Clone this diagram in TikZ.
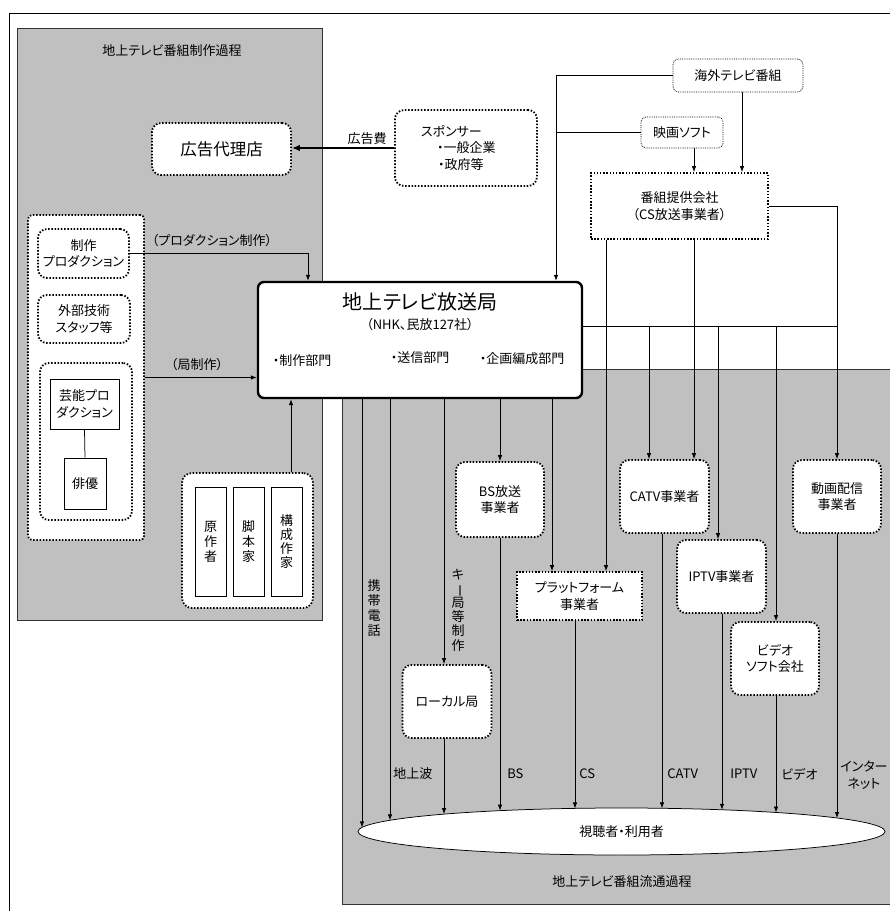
\documentclass[tikz,border=0pt]{standalone}
\usepackage{fontspec}
\setmainfont{Noto Sans CJK JP}[RawFeature={+palt}]
\usetikzlibrary{arrows.meta,shapes.geometric}
\definecolor{areagray}{RGB}{192,192,192}

\begin{document}
\begin{tikzpicture}[x=1pt,y=-1pt,line width=.75pt,font=\fontsize{13}{16.5}\selectfont,
  >={Latex[length=6pt,width=4.5pt]},
  area/.style={draw=black!80,fill=areagray,line width=.8pt},
  dotbox/.style={draw,fill=white,line width=1.8pt,dash pattern=on 1.5pt off 1.7pt,rounded corners=9pt,inner sep=0pt,align=center},
  sqdotbox/.style={dotbox,sharp corners},
  finebox/.style={draw,fill=white,line width=.7pt,dash pattern=on .8pt off 1pt,rounded corners=5pt,inner sep=0pt},
  plainbox/.style={draw,fill=white,inner sep=0pt,align=center},
  vtext/.style={align=center,inner sep=0pt,font=\fontsize{13}{15}\selectfont},
  lbl/.style={inner sep=0pt}]
\useasboundingbox (0,0) rectangle (890,911);
\clip (0,0) rectangle (890,911);
\draw[line width=.9pt] (9.5,13.5) rectangle (905,925);

% the two processes
\draw[area] (17,28) rectangle (322,620);
\draw[area] (342,369) rectangle (905,904);
\node (prodtitle) at (172,51) {地上テレビ番組制作過程};
\node (disttitle) at (622,882) {地上テレビ番組流通過程};

% broadcaster
\node[draw,fill=white,line width=2.4pt,rounded corners=6pt,minimum width=324pt,minimum height=116pt] (station) at (420,340) {};
\node[font=\fontsize{20}{24}\selectfont] (sttitle) at (420,302) {地上テレビ放送局};
\node (stsub) at (420,325) {（NHK、民放127社）};
\node (stprod) at (302,361) {・制作部門};
\node (stsend) at (420,358) {・送信部門};
\node (stplan) at (522,359) {・企画編成部門};

% sponsor and agency
\node[dotbox,minimum width=139pt,minimum height=52pt,font=\fontsize{16.5}{20}\selectfont] (agency) at (221.5,149) {広告代理店};
\node[dotbox,minimum width=142pt,minimum height=76pt,text width=90pt,align=left] (sponsor) at (466,148)
  {スポンサー\\\hspace*{16pt}・一般企業\\\hspace*{17pt}・政府等};
\draw[line width=2pt,-{Latex[length=8pt,width=6.5pt]}] (sponsor.west) -- (agency.east |- sponsor.west);
\node[lbl] (adfee) at (367,139) {広告費};

% program sources
\node[finebox,minimum width=130pt,minimum height=33pt] (abroad) at (738,75.5) {海外テレビ番組};
\node[finebox,minimum width=82pt,minimum height=31pt] (film) at (682,132.5) {映画ソフト};
\node[sqdotbox,minimum width=177pt,minimum height=66pt] (provider) at (679.5,206) {番組提供会社\\（CS放送事業者）};
\draw[->] (abroad.west) -| (station.north -| 556,0);
\draw (film.west) -- (film.west -| 556,0);
\draw[->] (film.south -| 694,0) -- (provider.north -| 694,0);
\draw[->] (abroad.south -| 742,0) -- (provider.north -| 742,0);

% production side
\node[dotbox,rounded corners=4pt,minimum width=116pt,minimum height=325pt] (prodgroup) at (86,377.5) {};
\node[dotbox,minimum width=91pt,minimum height=49pt] (seisaku) at (83.5,253.5) {制作\\プロダクション};
\node[dotbox,minimum width=92pt,minimum height=48pt] (gaibu) at (84,319) {外部技術\\スタッフ等};
\node[dotbox,minimum width=92pt,minimum height=157pt] (geinogroup) at (86,441.5) {};
\node[plainbox,minimum width=69pt,minimum height=50pt] (geinoprod) at (84.5,404) {芸能プロ\\ダクション};
\node[plainbox,minimum width=42pt,minimum height=51pt] (haiyu) at (85,483.5) {俳優};
\draw (geinoprod.south) -- (haiyu.north);
\node[dotbox,rounded corners=10pt,minimum width=131pt,minimum height=135pt] (writers) at (247.5,540.5) {};
\node[plainbox,vtext,minimum width=31pt,minimum height=109pt] (gensaku) at (210.5,541.5) {原\\作\\者};
\node[plainbox,vtext,minimum width=31pt,minimum height=109pt] (kyakuhon) at (248.5,541.5) {脚\\本\\家};
\node[plainbox,vtext,font=\fontsize{13}{14}\selectfont,minimum width=31pt,minimum height=109pt] (kosei) at (286.5,541.5) {構\\成\\作\\家};
\draw[->] (seisaku.east) -| (station.north -| 308,0);
\node[lbl] (lblprod) at (212,241) {（プロダクション制作）};
\draw[->] (prodgroup.east) -- (station.west |- prodgroup.east);
\node[lbl] (lblkyoku) at (197,365) {（局制作）};
\draw[->] (writers.north -| 291,0) -- (station.south -| 291,0);

% distributors
\node[dotbox,minimum width=89pt,minimum height=73pt] (local) at (447,701.5) {ローカル局};
\node[dotbox,minimum width=88pt,minimum height=75pt] (bs) at (500,499.5) {BS放送\\事業者};
\node[sqdotbox,minimum width=125pt,minimum height=48pt] (platform) at (579.5,596) {プラットフォーム\\事業者};
\node[dotbox,minimum width=89pt,minimum height=73pt] (catv) at (664.5,496.5) {CATV事業者};
\node[dotbox,minimum width=89pt,minimum height=73pt] (iptv) at (721.5,576.5) {IPTV事業者};
\node[dotbox,minimum width=88pt,minimum height=73pt] (video) at (775,658.5) {ビデオ\\ソフト会社};
\node[dotbox,minimum width=88pt,minimum height=73pt] (online) at (837,496.5) {動画配信\\事業者};
\node[ellipse,draw,fill=white,minimum width=527pt,minimum height=47pt,inner sep=0pt] (viewer) at (621.5,831.5) {視聴者・利用者};

% where the lines meet the viewers
\coordinate (vmob) at (362,827.4);
\coordinate (vterr) at (390,820.3);
\coordinate (vlocal) at (444,814.1);
\coordinate (vbs) at (500,810.6);
\coordinate (vcs) at (575,808.4);
\coordinate (vcatv) at (662,808.3);
\coordinate (viptv) at (722,809.8);
\coordinate (vvideo) at (776,812.5);
\coordinate (vnet) at (837,818);

% broadcaster outputs
\coordinate (busend) at (837,326);
\draw (station.east |- busend) -- (busend);
\draw[->] (busend -| 649,0) -- (catv.north -| 649,0);
\draw[->] (busend -| 718,0) -- (iptv.north -| 718,0);
\draw[->] (busend -| 776,0) -- (video.north -| 776,0);
\draw[->] (station.south -| 362,0) -- (vmob);
\draw[->] (station.south -| 390,0) -- (vterr);
\draw[->] (station.south -| 444,0) -- (local.north -| 444,0);
\draw[->] (station.south -| bs.north) -- (bs.north);
\draw[->] (station.south -| 552,0) -- (platform.north -| 552,0);

% provider outputs
\draw[->] (provider.south -| 606,0) -- (platform.north -| 606,0);
\draw[->] (provider.south -| 694,0) -- (catv.north -| 694,0);
\draw[->] (provider.east) -| (online.north);

% to the viewers
\draw[->] (local.south -| 444,0) -- (vlocal);
\draw[->] (bs.south) -- (vbs);
\draw[->] (platform.south -| 575,0) -- (vcs);
\draw[->] (catv.south -| 662,0) -- (vcatv);
\draw[->] (iptv.south -| 722,0) -- (viptv);
\draw[->] (video.south -| 776,0) -- (vvideo);
\draw[->] (online.south) -- (vnet);

\node[vtext] (lmob) at (374,608) {携\\帯\\電\\話};
\node[vtext,font=\fontsize{13}{14.2}\selectfont] (lkey) at (458,610) {キ\\\rotatebox[origin=c]{-90}{ー}\\局\\等\\制\\作};
\node[lbl,anchor=west] (lterr) at (393,774) {地上波};
\node[lbl,anchor=west] (lbs) at (507,774) {BS};
\node[lbl,anchor=west] (lcs) at (579,774) {CS};
\node[lbl,anchor=west] (lcatv) at (667,774) {CATV};
\node[lbl,anchor=west] (liptv) at (730,774) {IPTV};
\node[lbl,anchor=west] (lvideo) at (781,774) {ビデオ};
\node[lbl,align=center] (lnet) at (864,775) {インター\\ネット};
\end{tikzpicture}
\end{document}
